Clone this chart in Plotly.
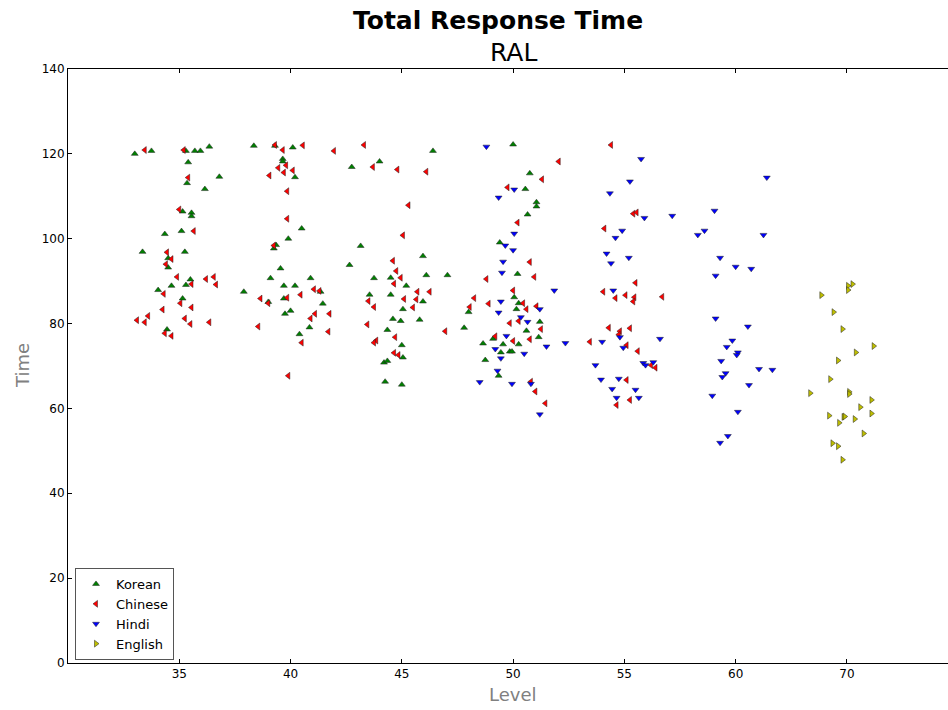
import plotly.graph_objects as go

# Category tick labels (equally spaced positions 0..6)
level_labels = ["35", "40", "45", "50", "55", "60", "70"]
level_pos = [0, 1, 2, 3, 4, 5, 6]

# Korean
korean_x = [-0.40, -0.25, 0.06, 0.14, 0.19, 0.27, 0.08, 0.36, 0.07, 0.23, 0.03, 0.11, 0.11, -0.13, 0.02,
            -0.33, 0.05, -0.10, -0.10, 0.10, 0.06, -0.07, -0.19, 0.03, -0.11,
            0.67, 0.86, 1.02, 0.93, 0.93, 1.04, 1.10, 0.98, 0.87, 0.85, 0.91, 0.82, 1.18, 0.94, 1.04,
            0.58, 1.27, 0.94, 0.80, 1.29, 1.00, 0.95, 1.17, 1.08,
            2.28, 1.80, 1.55, 1.63, 2.19, 1.53, 1.75, 1.90, 2.22, 2.41, 2.04, 1.71, 1.90, 2.19, 2.01,
            1.92, 1.99, 2.16, 1.87, 2.00, 2.01, 1.84, 1.87, 1.85, 2.00,
            3.00, 3.15, 3.11, 3.21, 3.21, 3.13, 2.88, 3.04, 3.01, 3.05, 3.03, 2.60, 2.56, 3.24, 3.12,
            3.23, 2.82, 2.73, 2.91, 3.05, 2.89, 2.97, 2.99, 2.75, 2.87]
korean_y = [120.0, 120.7, 120.7, 120.7, 120.7, 121.7, 118.0, 114.6, 113.1, 111.7, 106.4, 106.1, 105.3, 101.1, 101.8,
            96.9, 96.9, 95.4, 93.2, 90.4, 89.1, 88.9, 87.9, 85.9, 78.6,
            121.9, 121.9, 121.5, 118.8, 118.2, 114.5, 102.4, 100.0, 98.5, 97.7, 93.0, 90.7, 90.7, 88.9, 88.9,
            87.5, 87.5, 85.9, 85.1, 84.7, 83.0, 82.3, 79.1, 77.5,
            120.7, 118.2, 116.9, 98.3, 95.9, 93.8, 90.7, 90.8, 91.4, 91.4, 88.9, 86.8, 86.8, 85.2, 83.4,
            81.1, 80.6, 80.9, 78.5, 74.9, 72.0, 70.8, 71.2, 66.3, 65.6,
            122.2, 115.4, 111.7, 108.6, 107.6, 105.7, 99.1, 91.7, 86.2, 84.8, 83.4, 82.7, 79.0, 80.4, 78.3,
            76.8, 76.4, 75.3, 75.1, 75.1, 73.2, 73.4, 73.4, 71.4, 67.7]

# Chinese
chinese_x = [-0.31, 0.04, 0.08, 0.00, 0.13, -0.11, -0.07, -0.12, -0.02, 0.24, 0.31, 0.33, 0.11, -0.14, 0.01,
             0.11, -0.15, -0.28, -0.38, -0.31, 0.05, 0.10, 0.27, -0.13, -0.07,
             0.86, 1.11, 0.93, 1.39, 0.96, 0.89, 1.02, 0.94, 0.81, 0.97, 0.97, 0.85, 1.21, 1.26, 1.09,
             0.73, 0.97, 0.80, 1.22, 1.18, 1.35, 0.71, 1.34, 1.10, 0.98,
             1.66, 1.74, 1.96, 2.22, 2.06, 2.01, 1.92, 1.95, 1.99, 1.93, 2.14, 2.25, 2.02, 2.13, 1.70,
             1.75, 2.10, 1.69, 1.94, 1.77, 1.75, 1.93, 1.97, 2.39,
             3.41, 3.26, 2.95, 3.04, 3.15, 2.76, 3.19, 3.00, 2.65, 2.61, 2.78, 3.09, 3.12, 3.21, 2.97,
             3.05, 3.25, 2.84, 3.00, 3.15, 3.16, 3.20, 3.29,
             3.88, 4.08, 4.11, 3.82, 4.10, 3.81, 4.01, 3.92, 4.09, 4.08, 4.34, 3.86, 3.96, 3.95, 4.05,
             3.69, 4.02, 4.12, 4.24, 4.28, 4.02, 4.05, 3.93]
chinese_y = [120.9, 120.9, 114.4, 106.9, 101.8, 96.8, 95.2, 94.0, 91.0, 90.5, 91.0, 89.2, 89.3, 87.0, 84.8,
             83.8, 83.3, 81.8, 80.8, 80.3, 81.2, 79.9, 80.3, 77.7, 77.1,
             122.1, 122.0, 120.9, 120.7, 117.3, 116.7, 116.1, 115.6, 114.9, 111.2, 104.7, 98.4, 88.1, 87.7, 86.8,
             85.9, 86.1, 84.8, 82.3, 81.2, 82.3, 79.3, 78.1, 75.5, 67.7,
             122.1, 116.9, 116.3, 115.8, 107.9, 100.8, 94.8, 92.4, 90.8, 89.4, 87.5, 87.5, 85.8, 85.7, 85.3,
             83.9, 83.8, 79.8, 76.8, 76.0, 75.5, 73.1, 72.6, 78.2,
             118.2, 114.0, 112.1, 103.8, 94.5, 90.5, 91.0, 87.8, 86.0, 83.9, 84.7, 84.8, 83.4, 84.1, 80.1,
             80.6, 78.7, 77.0, 75.9, 76.3, 66.3, 64.0, 61.2,
             122.1, 105.9, 106.2, 102.4, 89.6, 87.5, 86.7, 86.0, 86.2, 85.2, 86.3, 79.0, 78.2, 77.4, 78.9,
             75.7, 74.9, 73.5, 70.2, 69.6, 66.7, 62.0, 60.8]

# Hindi
hindi_x = [2.76, 3.01, 2.87, 3.01, 2.93, 3.00, 2.91, 2.90, 3.37, 2.89, 2.87, 3.24, 3.07, 3.13, 2.94,
           3.47, 3.30, 2.84, 3.10, 2.89, 2.86, 2.70, 2.99, 3.16, 3.24,
           4.15, 4.05, 3.87, 4.18, 4.43, 3.98, 3.92, 3.84, 4.04, 3.88, 3.90, 3.96, 3.80, 3.99, 4.32,
           3.74, 4.17, 4.19, 4.26, 3.79, 3.95, 3.89, 4.10, 3.93, 4.13,
           5.28, 4.81, 4.72, 4.66, 5.25, 4.86, 5.00, 5.14, 4.82, 4.82, 5.11, 4.97, 4.92, 5.02, 5.01,
           4.87, 5.21, 5.33, 4.91, 4.88, 5.12, 4.79, 5.02, 4.93, 4.86]
hindi_y = [121.7, 111.6, 109.7, 101.2, 98.4, 97.3, 94.6, 92.0, 87.8, 85.2, 82.6, 83.4, 81.5, 80.4, 77.1,
           75.4, 74.6, 74.0, 72.9, 71.8, 68.9, 66.2, 65.8, 65.8, 58.6,
           118.8, 113.5, 110.7, 104.9, 105.4, 101.9, 100.2, 96.5, 95.5, 94.2, 87.8, 76.8, 75.7, 74.3, 76.4,
           70.2, 70.7, 70.2, 70.9, 66.8, 67.0, 64.6, 64.4, 62.5, 62.5,
           114.4, 106.6, 101.9, 100.9, 100.9, 95.5, 93.4, 92.9, 91.3, 81.2, 79.3, 76.0, 74.5, 73.2, 72.6,
           71.2, 69.3, 69.1, 68.3, 67.4, 65.5, 63.0, 59.2, 53.5, 51.9]

# English
english_x = [6.01, 6.05, 6.01, 5.77, 5.88, 5.96, 6.24, 6.08, 5.92, 5.85, 5.67, 6.02, 6.02, 6.22, 6.12,
             6.22, 5.84, 5.97, 5.98, 6.07, 5.93, 6.15, 5.87, 5.92, 5.96]
english_y = [88.9, 89.3, 87.9, 86.7, 82.7, 78.7, 74.7, 73.2, 71.3, 66.9, 63.6, 63.9, 63.4, 62.0, 60.3,
             58.8, 58.3, 58.0, 58.1, 57.5, 56.6, 54.1, 51.8, 51.1, 47.9]

series = [
    ("Korean", korean_x, korean_y, "triangle-up", "#008000"),
    ("Chinese", chinese_x, chinese_y, "triangle-left", "#ff0000"),
    ("Hindi", hindi_x, hindi_y, "triangle-down", "#0000ff"),
    ("English", english_x, english_y, "triangle-right", "#bfbf00"),
]

W, H = 948, 710
L, R, T, B = 68, 0, 69, 47
pw, ph = W - L - R, H - T - B


def px_to_paper(px, py):
    return (px - L) / pw, (H - B - py) / ph


fig = go.Figure()
for name, xs, ys, sym, col in series:
    fig.add_trace(go.Scatter(
        x=xs, y=ys, mode="markers", name=name,
        marker=dict(symbol=sym, size=6, color=col, line=dict(color="#202020", width=0.5)),
    ))

font_family = "DejaVu Sans, sans-serif"
fig.update_layout(
    width=W, height=H,
    margin=dict(l=L, r=R, t=T, b=B, pad=0),
    paper_bgcolor="white", plot_bgcolor="white",
    font=dict(family=font_family, size=12, color="black"),
    showlegend=True,
    legend=dict(
        x=px_to_paper(75, 0)[0], y=px_to_paper(0, 660)[1], xanchor="left", yanchor="bottom",
        bgcolor="white", bordercolor="#555555", borderwidth=1,
        font=dict(family=font_family, size=13, color="black"),
        itemwidth=30, tracegroupgap=0,
    ),
    xaxis=dict(
        range=[-1, (948 - 180) / 111.17], tickvals=level_pos, ticktext=level_labels,
        showline=True, linecolor="black", linewidth=1, mirror="ticks",
        ticks="inside", ticklen=4, tickcolor="black", showgrid=False, zeroline=False,
        tickfont=dict(size=12),
    ),
    yaxis=dict(
        range=[0, 140], dtick=20, tick0=0,
        showline=True, linecolor="black", linewidth=1, mirror=False,
        ticks="inside", ticklen=4, tickcolor="black", showgrid=False, zeroline=False,
        tickfont=dict(size=12),
    ),
)

ann = []
x0, y0 = px_to_paper(498, 20)
ann.append(dict(x=x0, y=y0, xref="paper", yref="paper", text="<b>Total Response Time</b>", showarrow=False,
                xanchor="center", yanchor="middle", font=dict(size=25, family=font_family, color="black")))
x0, y0 = px_to_paper(513, 52)
ann.append(dict(x=x0, y=y0, xref="paper", yref="paper", text="RAL", showarrow=False,
                xanchor="center", yanchor="middle", font=dict(size=25, family=font_family, color="black")))
x0, y0 = px_to_paper(513, 694)
ann.append(dict(x=x0, y=y0, xref="paper", yref="paper", text="Level", showarrow=False,
                xanchor="center", yanchor="middle", font=dict(size=18, family=font_family, color="#808080")))
x0, y0 = px_to_paper(22, 366)
ann.append(dict(x=x0, y=y0, xref="paper", yref="paper", text="Time", showarrow=False, textangle=-90,
                xanchor="center", yanchor="middle", font=dict(size=18, family=font_family, color="#808080")))
fig.update_layout(annotations=ann)

fig.write_html("out.html", config={"displayModeBar": False},
               post_script="document.body.style.margin='0';")
